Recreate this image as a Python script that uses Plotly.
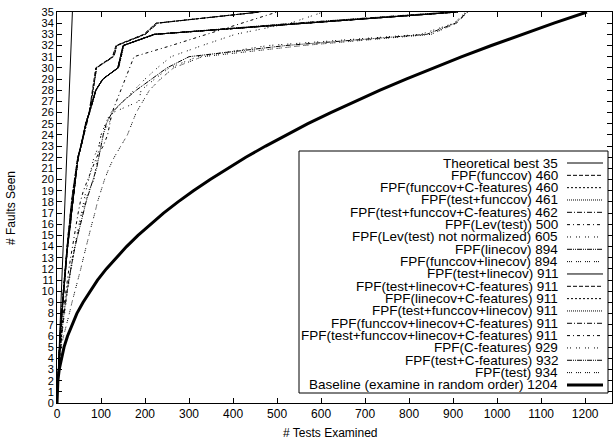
import plotly.graph_objects as go

# ---------------- data ----------------
FAULTS = list(range(0, 36))  # faults seen, 0..35

theoretical_x = [0, 35]
theoretical_y = [0, 35]

# tests examined at which the n-th fault was seen (n = 0..35)
funccov = [0, 1, 2, 3, 4, 5, 7, 8, 10, 12, 14, 16, 18, 20, 23, 25, 28, 30, 33, 36, 40, 44, 47, 55, 60, 66, 73, 77, 81, 85, 88, 126, 134, 197, 225, 460]
funccov_c = [0, 1, 2, 3, 4, 5, 7, 9, 10, 12, 14, 16, 18, 21, 23, 26, 28, 31, 33, 36, 40, 44, 48, 55, 61, 66, 73, 77, 82, 86, 89, 128, 136, 200, 228, 460]
test_funccov = [0, 1, 2, 3, 4, 6, 7, 8, 10, 12, 15, 16, 18, 20, 23, 25, 28, 30, 34, 37, 41, 44, 47, 54, 60, 66, 74, 78, 82, 86, 90, 127, 135, 199, 226, 461]
test_funccov_c = [0, 1, 2, 3, 4, 6, 7, 9, 11, 12, 15, 17, 18, 21, 23, 26, 28, 31, 34, 37, 41, 45, 48, 55, 61, 67, 74, 78, 82, 86, 90, 129, 137, 201, 229, 462]
lev_test = [0, 1, 2, 3, 5, 7, 9, 11, 14, 17, 20, 23, 27, 31, 35, 39, 43, 48, 53, 60, 70, 80, 90, 105, 115, 120, 125, 135, 145, 155, 165, 175, 260, 340, 420, 500]
lev_test_nn = [0, 1, 2, 4, 6, 8, 11, 14, 17, 20, 24, 28, 32, 36, 40, 45, 50, 55, 60, 66, 72, 78, 84, 95, 100, 110, 122, 150, 175, 200, 228, 259, 330, 405, 530, 605]
linecov = [0, 1, 2, 3, 4, 6, 7, 9, 11, 13, 15, 17, 19, 21, 24, 27, 30, 32, 35, 38, 41, 44, 48, 54, 60, 65, 73, 81, 88, 104, 138, 144, 150, 222, 540, 894]
funccov_linecov = [0, 1, 2, 3, 4, 6, 8, 9, 11, 13, 15, 17, 19, 22, 24, 27, 30, 33, 35, 38, 41, 45, 49, 55, 61, 66, 74, 82, 89, 105, 139, 145, 151, 224, 545, 894]
test_linecov = [0, 1, 2, 3, 4, 6, 7, 9, 11, 13, 15, 17, 19, 21, 24, 27, 30, 32, 35, 38, 41, 44, 48, 54, 60, 65, 73, 81, 88, 104, 138, 144, 150, 220, 555, 911]
test_linecov_c = [0, 1, 2, 3, 4, 6, 7, 9, 11, 13, 16, 17, 20, 22, 24, 27, 30, 33, 35, 38, 42, 45, 48, 54, 60, 66, 73, 81, 88, 104, 139, 145, 151, 221, 556, 911]
linecov_c = [0, 1, 2, 3, 5, 6, 8, 9, 11, 13, 15, 18, 19, 21, 25, 27, 31, 32, 36, 38, 41, 44, 49, 54, 61, 65, 74, 81, 89, 105, 138, 145, 150, 222, 557, 911]
test_funccov_linecov = [0, 1, 2, 3, 4, 6, 7, 9, 12, 13, 15, 17, 19, 21, 24, 28, 30, 32, 35, 39, 41, 44, 48, 55, 60, 65, 73, 82, 88, 104, 140, 146, 152, 223, 558, 911]
funccov_linecov_c = [0, 1, 2, 3, 4, 6, 7, 10, 11, 13, 15, 17, 19, 22, 24, 27, 30, 32, 35, 38, 42, 44, 48, 54, 60, 66, 74, 81, 88, 105, 139, 145, 151, 221, 556, 911]
test_funccov_linecov_c = [0, 1, 2, 3, 4, 6, 7, 9, 11, 14, 15, 17, 19, 21, 24, 27, 31, 32, 35, 38, 41, 45, 48, 55, 61, 65, 73, 81, 89, 104, 140, 146, 151, 222, 557, 911]
c_features = [0, 1, 2, 4, 6, 8, 10, 12, 15, 18, 22, 26, 30, 35, 40, 46, 52, 58, 64, 72, 84, 88, 92, 96, 100, 118, 127, 186, 191, 222, 255, 320, 480, 827, 902, 929]
test_c_features = [0, 1, 2, 4, 6, 8, 10, 13, 16, 19, 23, 27, 31, 36, 41, 47, 53, 59, 66, 74, 82, 90, 95, 100, 105, 112, 125, 150, 180, 215, 250, 300, 520, 840, 905, 932]
test_only = [0, 1, 3, 5, 7, 9, 15, 22, 28, 34, 41, 47, 54, 60, 66, 73, 79, 86, 92, 100, 108, 118, 130, 145, 160, 170, 180, 195, 210, 235, 265, 330, 560, 850, 908, 934]
baseline = [0, 1, 2, 5, 10, 16, 24, 34, 45, 59, 75, 92, 112, 134, 158, 184, 212, 242, 275, 310, 348, 387, 429, 474, 521, 570, 622, 677, 734, 793, 855, 920, 987, 1057, 1129, 1204]

LABELS = [
    "Theoretical best 35",
    "FPF(funccov) 460",
    "FPF(funccov+C-features) 460",
    "FPF(test+funccov) 461",
    "FPF(test+funccov+C-features) 462",
    "FPF(Lev(test)) 500",
    "FPF(Lev(test) not normalized) 605",
    "FPF(linecov) 894",
    "FPF(funccov+linecov) 894",
    "FPF(test+linecov) 911",
    "FPF(test+linecov+C-features) 911",
    "FPF(linecov+C-features) 911",
    "FPF(test+funccov+linecov) 911",
    "FPF(funccov+linecov+C-features) 911",
    "FPF(test+funccov+linecov+C-features) 911",
    "FPF(C-features) 929",
    "FPF(test+C-features) 932",
    "FPF(test) 934",
    "Baseline (examine in random order) 1204",
]

X_TICKS = list(range(0, 1201, 100))
Y_TICKS = list(range(0, 36))

# ---------------- styles ----------------
series = [
    (theoretical_x, theoretical_y, "solid", 1.0),
    (funccov, FAULTS, "4px,2px", 1.0),
    (funccov_c, FAULTS, "2px,2px", 1.0),
    (test_funccov, FAULTS, "1px,1px", 1.0),
    (test_funccov_c, FAULTS, "5px,2px,1px,2px", 1.0),
    (lev_test, FAULTS, "3px,3px,1px,3px", 1.0),
    (lev_test_nn, FAULTS, "1px,2px,1px,5px", 1.0),
    (linecov, FAULTS, "5px,1px,1px,1px,1px,1px", 1.0),
    (funccov_linecov, FAULTS, "1px,1px,1px,1px,1px,4px", 1.0),
    (test_linecov, FAULTS, "solid", 1.0),
    (test_linecov_c, FAULTS, "4px,2px", 1.0),
    (linecov_c, FAULTS, "2px,2px", 1.0),
    (test_funccov_linecov, FAULTS, "1px,1px", 1.0),
    (funccov_linecov_c, FAULTS, "5px,2px,1px,2px", 1.0),
    (test_funccov_linecov_c, FAULTS, "3px,3px,1px,3px", 1.0),
    (c_features, FAULTS, "1px,2px,1px,5px", 1.0),
    (test_c_features, FAULTS, "5px,1px,1px,1px,1px,1px", 1.0),
    (test_only, FAULTS, "1px,1px,1px,1px,1px,4px", 1.0),
    (baseline, FAULTS, "solid", 3.0),
]

FONT = "Liberation Sans, Arial, Helvetica, sans-serif"
W, H = 616, 443
PL, PR, PT, PB = 57, 612, 12, 403  # plot area in pixels

fig = go.Figure()
for (xs, ys, dash, width), name in zip(series, LABELS):
    fig.add_trace(go.Scatter(x=xs, y=ys, mode="lines", name=name, showlegend=False,
                             line=dict(color="black", width=width, dash=dash)))


def px_x(px):
    return (px - PL) / (PR - PL)


def px_y(py):
    return (PB - py) / (PB - PT)


# custom gnuplot-style key (text right-aligned, sample on the right)
shapes = [dict(type="rect", xref="paper", yref="paper", x0=px_x(299), x1=px_x(608),
               y0=px_y(393), y1=px_y(151), fillcolor="white",
               line=dict(color="black", width=1), layer="above")]
annotations = []
row0, pitch = 163.0, 12.33
for i, ((xs, ys, dash, width), name) in enumerate(zip(series, LABELS)):
    yy = px_y(row0 + i * pitch)
    annotations.append(dict(x=px_x(559), y=yy, xref="paper", yref="paper", text=name,
                            showarrow=False, xanchor="right", yanchor="middle",
                            font=dict(family=FONT, size=13.5, color="black"), borderpad=0))
    shapes.append(dict(type="line", xref="paper", yref="paper", x0=px_x(567), x1=px_x(603),
                       y0=yy, y1=yy, line=dict(color="black", width=width, dash=dash),
                       layer="above"))

# axis titles placed as annotations (gnuplot-like positions)
annotations.append(dict(x=px_x(330), y=px_y(433), xref="paper", yref="paper",
                        text="# Tests Examined", showarrow=False, xanchor="center",
                        yanchor="middle", font=dict(family=FONT, size=12, color="black")))
annotations.append(dict(x=px_x(11), y=px_y(208), xref="paper", yref="paper",
                        text="# Faults Seen", showarrow=False, xanchor="center",
                        yanchor="middle", textangle=-90,
                        font=dict(family=FONT, size=12, color="black")))

fig.update_layout(
    width=W, height=H,
    margin=dict(l=PL, r=W - PR, t=PT, b=H - PB),
    paper_bgcolor="white", plot_bgcolor="white",
    font=dict(family=FONT, size=12, color="black"),
    shapes=shapes, annotations=annotations,
    showlegend=False,
)
fig.update_xaxes(range=[0, 1261], tickvals=X_TICKS, ticks="inside", ticklen=5,
                 tickcolor="black", showline=True, linecolor="black", linewidth=1,
                 mirror="ticks", showgrid=False, zeroline=False,
                 tickfont=dict(size=12), automargin=False, ticklabeloverflow="allow")
fig.update_yaxes(range=[0, 35], tickvals=Y_TICKS, ticks="inside", ticklen=5,
                 tickcolor="black", showline=True, linecolor="black", linewidth=1,
                 mirror="ticks", showgrid=False, zeroline=False,
                 tickfont=dict(size=11), automargin=False, ticklabeloverflow="allow")

# remove the browser's default 8px body margin so the figure fills the window
fig.write_html("out.html", config={"displayModeBar": False},
               post_script="document.body.style.margin='0';document.body.style.padding='0';")
